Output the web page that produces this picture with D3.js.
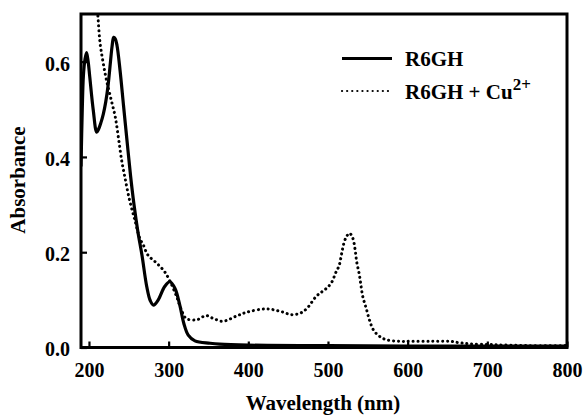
<!DOCTYPE html>
<html><head><meta charset="utf-8">
<script src="https://cdn.jsdelivr.net/npm/d3@7"></script>
<style>body{margin:0;background:#fff}svg{display:block}</style>
</head><body>
<svg id="c" width="584" height="416"></svg>
<script>
const xTicks = [200, 300, 400, 500, 600, 700, 800];
const yTicks = [0.0, 0.2, 0.4, 0.6];
const seriesNames = ["R6GH", "R6GH + Cu"];

const r6ghWl = [190,191.6,193,195,197,199,201,205.4,209.7,212,215,218,221,224,227,229,231,233,235.2,239,243.3,247.7,252.1,256.5,261.5,266.5,272.5,277,281,287,295,301.5,308,314,319,324.6,333,352,364,400,500,600,700,800];
const r6ghAbs = [0.38,0.50,0.57,0.605,0.619,0.60,0.568,0.498,0.452,0.458,0.472,0.49,0.515,0.55,0.60,0.632,0.651,0.648,0.634,0.582,0.509,0.435,0.362,0.300,0.242,0.194,0.128,0.098,0.089,0.100,0.128,0.138,0.124,0.089,0.051,0.026,0.014,0.009,0.007,0.005,0.004,0.003,0.003,0.003];

const cuWl = [205,208,211,214,218,222,228,233,237,241,245,251,258,264,268,274,285,295,302,310,316,322,335,347,356,368,385,398,422,440,454,465,473,485,490,495,500,505,510,514,517,520,523,527,531,534,536,539,541,543.5,548,552,557,565,574,590,603,630,653,665,678,707,750,800];
const cuAbs = [0.86,0.76,0.70,0.638,0.596,0.561,0.519,0.484,0.44,0.393,0.358,0.309,0.265,0.228,0.216,0.194,0.177,0.159,0.138,0.107,0.079,0.061,0.058,0.067,0.061,0.055,0.066,0.074,0.081,0.076,0.069,0.072,0.081,0.107,0.114,0.120,0.127,0.138,0.158,0.172,0.196,0.219,0.232,0.240,0.230,0.206,0.180,0.156,0.135,0.108,0.082,0.058,0.037,0.023,0.016,0.013,0.013,0.013,0.013,0.010,0.0077,0.006,0.004,0.004];

const svg = d3.select("#c");
const L = 81, R = 567, T = 14, B = 347.5;
const x = d3.scaleLinear().domain([190, 800]).range([L, R]);
const y = d3.scaleLinear().domain([0, 0.7]).range([B, T]);
const font = "'Liberation Serif','Times New Roman',Times,serif";

svg.append("defs").append("clipPath").attr("id","clip")
  .append("rect").attr("x",L).attr("y",T).attr("width",R-L).attr("height",B-T);

const line = d3.line().x(d=>x(d[0])).y(d=>y(d[1])).curve(d3.curveCatmullRom.alpha(0.5));
const solid = r6ghWl.map((w,i)=>[w,r6ghAbs[i]]);
const dotted = cuWl.map((w,i)=>[w,cuAbs[i]]);

const g = svg.append("g").attr("clip-path","url(#clip)");
g.append("path").datum(dotted).attr("d",line).attr("fill","none").attr("stroke","#000")
  .attr("stroke-width",3).attr("stroke-linecap","round").attr("stroke-dasharray","0.1 4.8");
g.append("path").datum(solid).attr("d",line).attr("fill","none").attr("stroke","#000")
  .attr("stroke-width",3.2).attr("stroke-linejoin","round");

const xa = svg.append("g").attr("transform",`translate(0,${B})`)
  .call(d3.axisBottom(x).tickValues(xTicks).tickFormat(d3.format("d")).tickSizeInner(-6).tickSizeOuter(0).tickPadding(15));
const ya = svg.append("g").attr("transform",`translate(${L},0)`)
  .call(d3.axisLeft(y).tickValues(yTicks).tickFormat(d3.format(".1f")).tickSizeInner(-6).tickSizeOuter(0).tickPadding(11));
[xa,ya].forEach(a=>{
  a.select(".domain").remove();
  a.selectAll(".tick line").attr("stroke","#000").attr("stroke-width",2.2);
  a.selectAll("text").attr("font-family",font).attr("font-weight","bold").attr("font-size",20).attr("fill","#000");
});
ya.selectAll("text").attr("dy","0.42em");

svg.append("rect").attr("x",L).attr("y",T).attr("width",R-L).attr("height",B-T)
  .attr("fill","none").attr("stroke","#000").attr("stroke-width",3);

svg.append("text").attr("x",323).attr("y",410).attr("text-anchor","middle")
  .attr("font-family",font).attr("font-weight","bold").attr("font-size",21).text("Wavelength (nm)");
svg.append("text").attr("transform","translate(25,180) rotate(-90)").attr("text-anchor","middle")
  .attr("font-family",font).attr("font-weight","bold").attr("font-size",21).text("Absorbance");

// legend
const lg = svg.append("g");
lg.append("line").attr("x1",342).attr("x2",392).attr("y1",58.5).attr("y2",58.5)
  .attr("stroke","#000").attr("stroke-width",3);
lg.append("text").attr("x",405).attr("y",66).attr("font-family",font).attr("font-weight","bold")
  .attr("font-size",21).text(seriesNames[0]);
lg.append("line").attr("x1",342).attr("x2",389).attr("y1",91).attr("y2",91)
  .attr("stroke","#000").attr("stroke-width",2.2).attr("stroke-linecap","round").attr("stroke-dasharray","0.1 5");
const t2 = lg.append("text").attr("x",405).attr("y",98.5).attr("font-family",font).attr("font-weight","bold")
  .attr("font-size",21);
t2.append("tspan").text(seriesNames[1]);
t2.append("tspan").attr("dy",-9).attr("font-size",17).text("2+");
</script>
</body></html>
